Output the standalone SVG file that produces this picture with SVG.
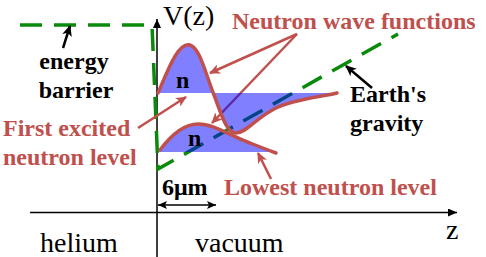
<svg xmlns="http://www.w3.org/2000/svg" width="486" height="257" viewBox="0 0 486 257" font-family="Liberation Serif, Times New Roman, serif">
<style>
.lbl{font-weight:bold;font-size:24px}
.red{fill:#c0504d}
.blk{fill:#000}
.ax{font-size:28px;fill:#000}
.wave{fill:none;stroke:#c0504d;stroke-width:3.5;stroke-linecap:round;stroke-linejoin:round}
.fill{fill:#0000ff;fill-opacity:0.5;stroke:none}
.ptr{fill:none;stroke:#c0504d;stroke-width:2.5}
.bptr{fill:none;stroke:#000;stroke-width:2.5}
.axis{fill:none;stroke:#000;stroke-width:1.5}
.pot{fill:none;stroke:#0a8a0a;stroke-width:3.5;stroke-dasharray:22 12}
</style>
<defs>
<marker id="ahr" markerUnits="userSpaceOnUse" markerWidth="12" markerHeight="10" refX="10" refY="5" orient="auto"><path d="M0,0 L11,5 L0,10 L3,5 z" fill="#c0504d"/></marker>
<marker id="ahb" markerUnits="userSpaceOnUse" markerWidth="12" markerHeight="10" refX="10" refY="5" orient="auto"><path d="M0,0 L11,5 L0,10 L3,5 z" fill="#000"/></marker>
<marker id="ahax" markerUnits="userSpaceOnUse" markerWidth="10" markerHeight="8" refX="9" refY="4" orient="auto"><path d="M0,0 L9,4 L0,8 z" fill="#000"/></marker>
<marker id="ahs" markerUnits="userSpaceOnUse" markerWidth="10" markerHeight="8" refX="9" refY="4" orient="auto-start-reverse"><path d="M0,0 L9,4 L0,8 L2,4 z" fill="#000"/></marker>
</defs>

<g id="axes">
<line class="axis" x1="157" y1="257" x2="157" y2="19" marker-end="url(#ahax)"/>
<line class="axis" x1="30" y1="212.5" x2="457" y2="212.5" marker-end="url(#ahax)"/>
<text class="ax" x="163" y="25">V(z)</text>
<text class="ax" x="446" y="239">z</text>
<text class="ax" x="40" y="252">helium</text>
<text class="ax" x="195" y="252">vacuum</text>
</g>

<g id="potential">
<path class="pot" d="M20,25 L152,25 L158,169 L398,34"/>
</g>

<g id="connectors">
<line class="ptr" x1="297" y1="34" x2="210" y2="73" marker-end="url(#ahr)"/>
<line class="ptr" x1="297" y1="34" x2="212" y2="123" marker-end="url(#ahr)"/>
<line class="ptr" x1="138" y1="128" x2="186" y2="97" marker-end="url(#ahr)"/>
<line class="ptr" x1="271" y1="179" x2="258" y2="153" marker-end="url(#ahr)"/>
<line class="bptr" x1="63" y1="48" x2="70" y2="26" marker-end="url(#ahb)"/>
<line class="bptr" x1="372" y1="88" x2="346" y2="66" marker-end="url(#ahb)"/>
<line class="axis" x1="158" y1="205" x2="216" y2="205" marker-start="url(#ahs)" marker-end="url(#ahs)"/>
</g>

<g id="first-excited-wave">
<path class="fill" d="M158,93 C168,70 178,42 190,45 C200,48 206,75 214,95 C221,113 226,133 236,133 C246,133 256,118 276,108 C295,99 320,97 337,93 Z"/>
<path class="wave" d="M158,93 C168,70 178,42 190,45 C200,48 206,75 214,95 C221,113 226,133 236,133 C246,133 256,118 276,108 C295,99 320,97 337,93"/>
<text class="lbl blk" x="176" y="88">n</text>
</g>

<g id="lowest-wave">
<path class="fill" d="M159,152 C172,134 184,124 198,124 C215,124 230,136 250,143 C258,146 264,149 270,152 Z"/>
<path class="wave" d="M160,150 C172,134 184,124 198,124 C215,124 230,136 250,143 C260,147 268,150 276,153"/>
<text class="lbl blk" x="188" y="146">n</text>
</g>

<g id="label-wave-functions"><text class="lbl red" x="232" y="29">Neutron wave functions</text></g>
<g id="label-energy-barrier">
<text class="lbl blk" x="74" y="69" text-anchor="middle">energy</text>
<text class="lbl blk" x="76" y="98" text-anchor="middle">barrier</text>
</g>
<g id="label-gravity">
<text class="lbl blk" x="350" y="102">Earth's</text>
<text class="lbl blk" x="350" y="131">gravity</text>
</g>
<g id="label-first-excited">
<text class="lbl red" x="3" y="136">First excited</text>
<text class="lbl red" x="3" y="165">neutron level</text>
</g>
<g id="label-lowest"><text class="lbl red" x="224" y="195">Lowest neutron level</text></g>
<g id="label-width"><text class="lbl blk" x="162" y="195" font-size="21">6μm</text></g>
</svg>
